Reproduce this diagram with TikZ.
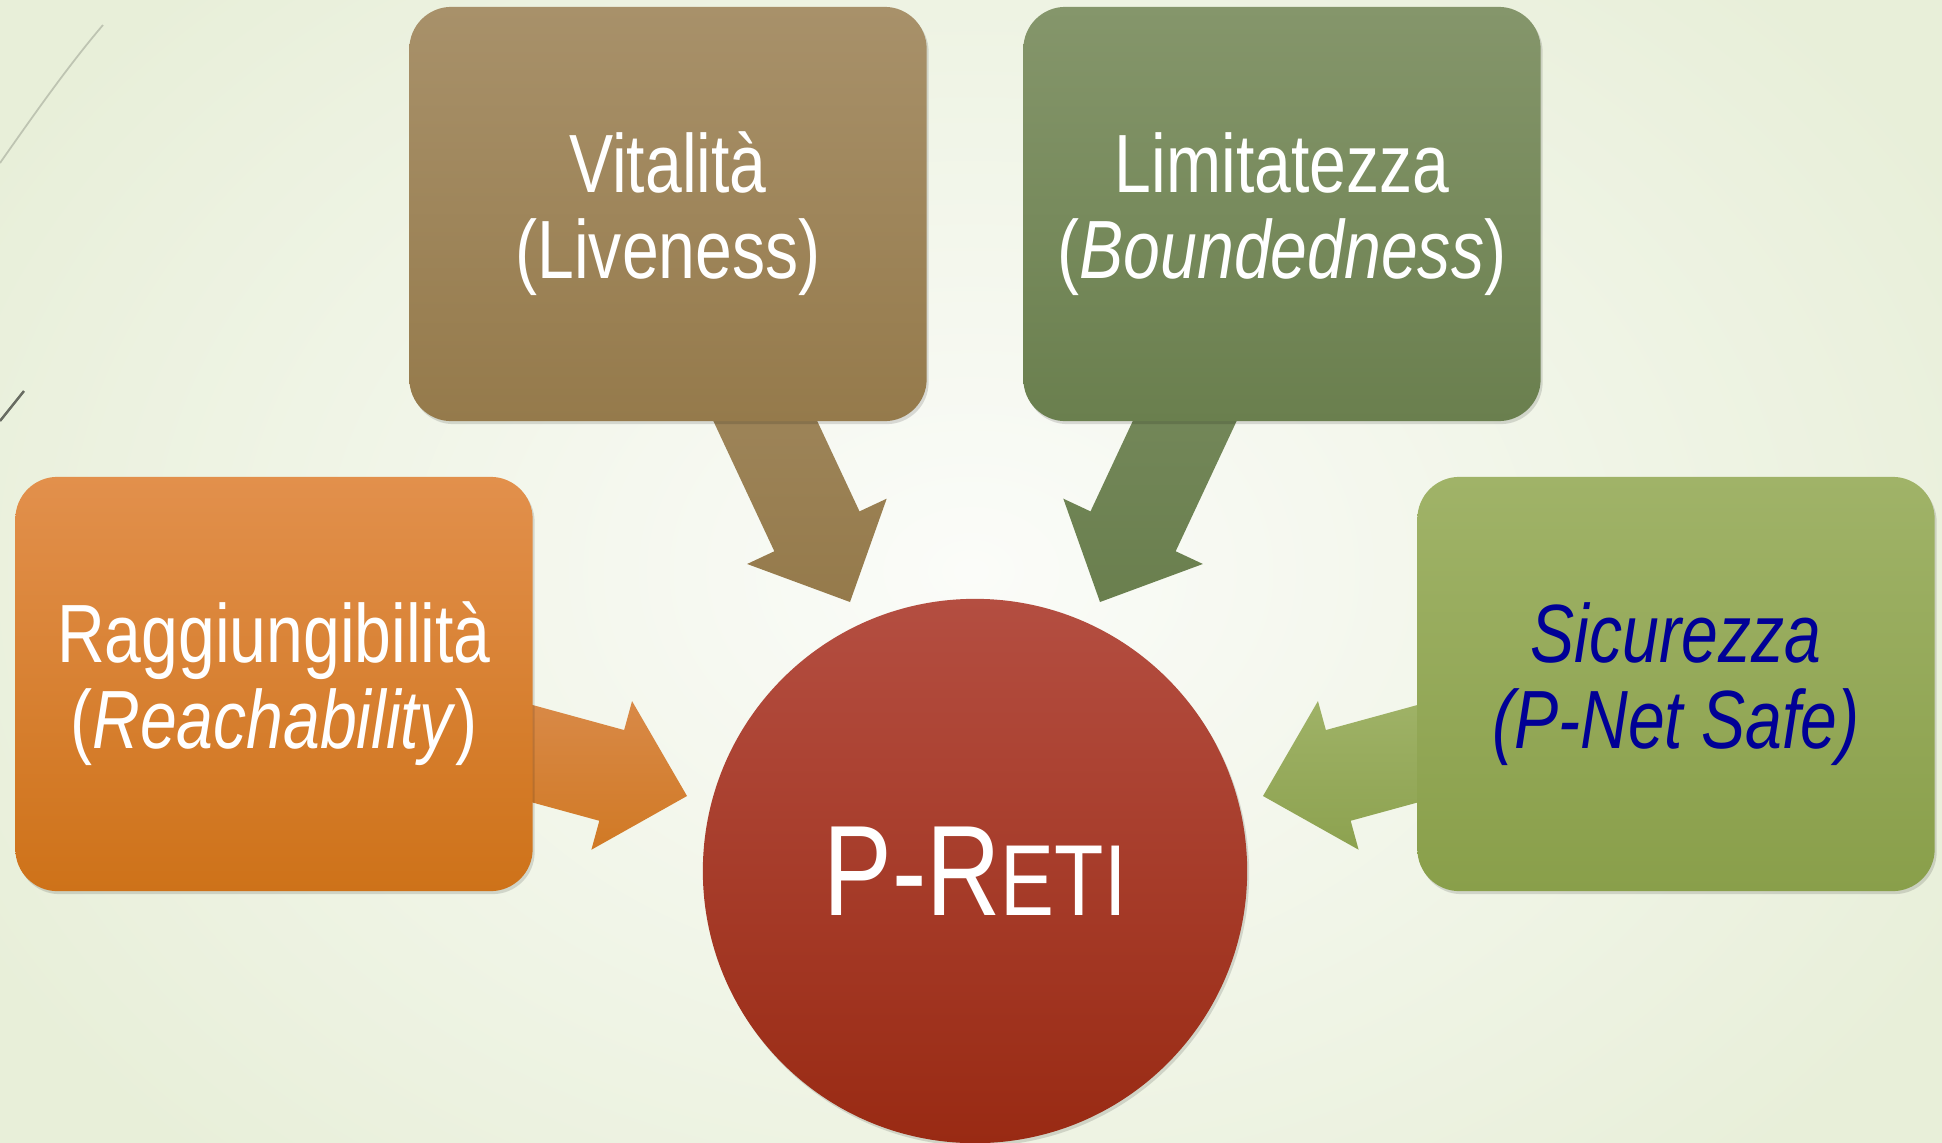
\documentclass[tikz,border=0pt]{standalone}
\usepackage{fontspec}
\setmainfont{Liberation Sans}[FakeStretch=0.8]
\usetikzlibrary{calc,shadows}
\definecolor{bgin}{HTML}{FBFCF9}
\definecolor{bgout}{HTML}{E8EFD9}
\definecolor{vitTop}{HTML}{A8916A}
\definecolor{vitBot}{HTML}{957A4B}
\definecolor{limTop}{HTML}{85966B}
\definecolor{limBot}{HTML}{6A7F4E}
\definecolor{ragTop}{HTML}{E2904C}
\definecolor{ragBot}{HTML}{CE7219}
\definecolor{sicTop}{HTML}{A0B368}
\definecolor{sicBot}{HTML}{899F4A}
\definecolor{cirTop}{HTML}{B44E41}
\definecolor{cirBot}{HTML}{992A13}
\definecolor{navy}{HTML}{000096}
\newcommand\blockarrow[4]{%
  \coordinate (hb) at ($(#2)!0.78cm!(#1)$);
  \path[top color=#3,bottom color=#4]
    ($(#1)!0.47cm!90:(#2)$) -- ($(hb)!0.47cm!90:(#2)$) -- ($(hb)!0.77cm!90:(#2)$)
    -- (#2) -- ($(hb)!0.77cm!-90:(#2)$) -- ($(hb)!0.47cm!-90:(#2)$)
    -- ($(#1)!0.47cm!-90:(#2)$) -- cycle;}
\begin{document}
\begin{tikzpicture}[x=0.01cm,y=-0.01cm,
  box/.style={rectangle, rounded corners=0.42cm, minimum width=5.17cm,
    minimum height=4.14cm, align=center, text=white,
    font=\fontsize{23.5}{24.5}\selectfont,
    drop shadow={shadow xshift=0.02cm, shadow yshift=-0.03cm, opacity=0.13, fill=black}},
  hub/.style={circle, minimum size=5.44cm, inner sep=0pt, text=white,
    drop shadow={shadow xshift=0.02cm, shadow yshift=-0.03cm, opacity=0.13, fill=black}}]
\useasboundingbox (0,0) rectangle (1942,1142);
\path[inner color=bgin, outer color=bgout] (-150,-250) rectangle (2092,1392);
\draw[color=black!18!bgout, line width=0.5pt] (0,163) .. controls (33,116) and (68,66) .. (103,25);
\draw[color=black!55!bgout, line width=0.7pt] (0,421) -- (24,391);

% arrow ends
\coordinate (vitS) at (740,367);  \coordinate (vitT) at (850,602);
\coordinate (limS) at (1210,367); \coordinate (limT) at (1100,602);
\coordinate (ragS) at (475,738);  \coordinate (ragT) at (687,796);
\coordinate (sicS) at (1475,738); \coordinate (sicT) at (1263,796);

\blockarrow{vitS}{vitT}{vitBot!90!white}{vitBot}
\blockarrow{limS}{limT}{limBot!92!white}{limBot}
\blockarrow{ragS}{ragT}{ragTop!96!black}{ragBot!95!white}
\blockarrow{sicS}{sicT}{sicTop}{sicBot!97!white}

\node[box, top color=vitTop, bottom color=vitBot] (vit) at (668,214) {Vitalità\\(Liveness)};
\node[box, top color=limTop, bottom color=limBot] (lim) at (1282,214) {Limitatezza\\(\textit{Boundedness})};
\node[box, top color=ragTop, bottom color=ragBot] (rag) at (274,684) {Raggiungibilità\\(\textit{Reachability})};
\node[box, top color=sicTop, bottom color=sicBot, text=navy] (sic) at (1676,684) {\textit{Sicurezza}\\\textit{(P-Net Safe)}};

\node[hub, top color=cirTop, bottom color=cirBot] (pr) at (975,871)
  {\fontsize{36.6}{40}\selectfont P-R{\fontsize{28.7}{30}\selectfont ETI}};
\end{tikzpicture}
\end{document}
